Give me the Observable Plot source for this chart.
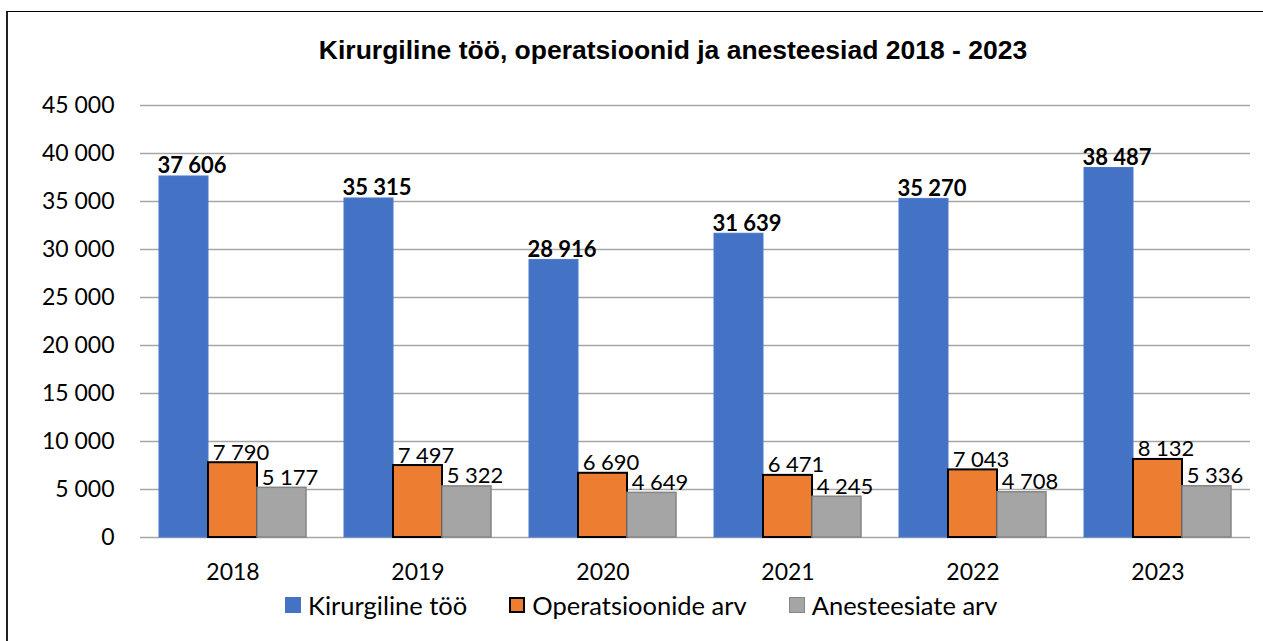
<!DOCTYPE html>
<html>
<head>
<meta charset="utf-8">
<script src="https://cdn.jsdelivr.net/npm/d3@7"></script>
<script src="https://cdn.jsdelivr.net/npm/@observablehq/plot@0.6"></script>
<style>
  html, body { margin: 0; padding: 0; background: #fff; }
  #wrap { position: relative; width: 1263px; height: 641px; overflow: hidden; font-family: Lato, sans-serif; }
  #frame { position: absolute; left: 6px; top: 11px; width: 1300px; height: 700px; border-left: 2px solid #222; border-top: 1.5px solid #000; box-sizing: border-box; }
  #title { position: absolute; left: 0; width: 1346px; top: 35px; text-align: center; font-family: "Liberation Sans", Arial, sans-serif; font-weight: bold; font-size: 26.5px; color: #000; white-space: nowrap; }
  #chart { position: absolute; left: 0; top: 0; }
  #legend { position: absolute; top: 590px; left: 285px; display: flex; align-items: center; font-family: Lato, sans-serif; font-size: 25.5px; color: #000; white-space: nowrap; }
  .item { display: flex; align-items: center; margin-right: 42px; }
  .sw { width: 16px; height: 16px; box-sizing: border-box; margin-right: 7px; }
</style>
</head>
<body>
<div id="wrap">
  <div id="frame"></div>
  <div id="title">Kirurgiline töö, operatsioonid ja anesteesiad 2018 - 2023</div>
  <div id="chart"></div>
  <div id="legend"></div>
</div>
<script>
const years = ["2018", "2019", "2020", "2021", "2022", "2023"];
const seriesNames = ["Kirurgiline töö", "Operatsioonide arv", "Anesteesiate arv"];
const kirurgilineToo = [37606, 35315, 28916, 31639, 35270, 38487];
const operatsioonideArv = [7790, 7497, 6690, 6471, 7043, 8132];
const anesteesiateArv = [5177, 5322, 4649, 4245, 4708, 5336];
const yTicks = [0, 5000, 10000, 15000, 20000, 25000, 30000, 35000, 40000, 45000];

const seriesValues = [kirurgilineToo, operatsioonideArv, anesteesiateArv];
const seriesStyle = [
  {fill: "#4472C4", stroke: "#4a78cc", strokeWidth: 1, weight: "bold"},
  {fill: "#ED7D31", stroke: "#000000", strokeWidth: 2, weight: "normal"},
  {fill: "#A5A5A5", stroke: "#858585", strokeWidth: 1.5, weight: "normal"}
];

const rows = [];
seriesNames.forEach((s, si) => {
  years.forEach((y, yi) => rows.push({year: y, series: s, value: seriesValues[si][yi]}));
});

const fmt = d => d3.format(",")(d).replace(/,/g, " ");

const marks = [
  Plot.gridY(yTicks, {stroke: "#a6a6a6", strokeOpacity: 1, strokeWidth: 1.5})
];
seriesNames.forEach((s, si) => {
  const st = seriesStyle[si];
  const data = rows.filter(r => r.series === s);
  marks.push(Plot.barY(data, {fx: "year", x: "series", y: "value", fill: st.fill, stroke: st.stroke, strokeWidth: st.strokeWidth, insetLeft: 0, insetRight: 0}));
});
seriesNames.forEach((s, si) => {
  const st = seriesStyle[si];
  const data = rows.filter(r => r.series === s);
  marks.push(Plot.text(data, {fx: "year", x: "series", y: "value", text: d => fmt(d.value), fontWeight: st.weight, fontSize: 22, fill: "#000", dx: 8, dy: -3, lineAnchor: "bottom"}));
});
marks.push(Plot.axisY({ticks: yTicks, tickFormat: fmt, tickSize: 0, tickPadding: 26, fontSize: 23, label: null}));
marks.push(Plot.axisFx({anchor: "bottom", tickSize: 0, tickPadding: 26, fontSize: 23, label: null}));

const chart = Plot.plot({
  width: 1263,
  height: 600,
  marginLeft: 137,
  marginRight: 11,
  marginTop: 105,
  marginBottom: 63,
  style: {fontFamily: "Lato, sans-serif", fontSize: "23px", color: "#000", background: "transparent", overflow: "visible"},
  fx: {domain: years, paddingInner: 0, paddingOuter: 0, label: null},
  x: {domain: seriesNames, paddingInner: 0, paddingOuter: 0.373, axis: null},
  y: {domain: [0, 45000], axis: null},
  marks
});
document.getElementById("chart").appendChild(chart);

const legend = document.getElementById("legend");
seriesNames.forEach((s, si) => {
  const st = seriesStyle[si];
  const item = document.createElement("div");
  item.className = "item";
  const sw = document.createElement("div");
  sw.className = "sw";
  sw.style.background = st.fill;
  if (si > 0) sw.style.border = `${si === 1 ? 2 : 1.5}px solid ${st.stroke}`;
  const label = document.createElement("span");
  label.textContent = s;
  item.appendChild(sw);
  item.appendChild(label);
  legend.appendChild(item);
});
</script>
</body>
</html>
